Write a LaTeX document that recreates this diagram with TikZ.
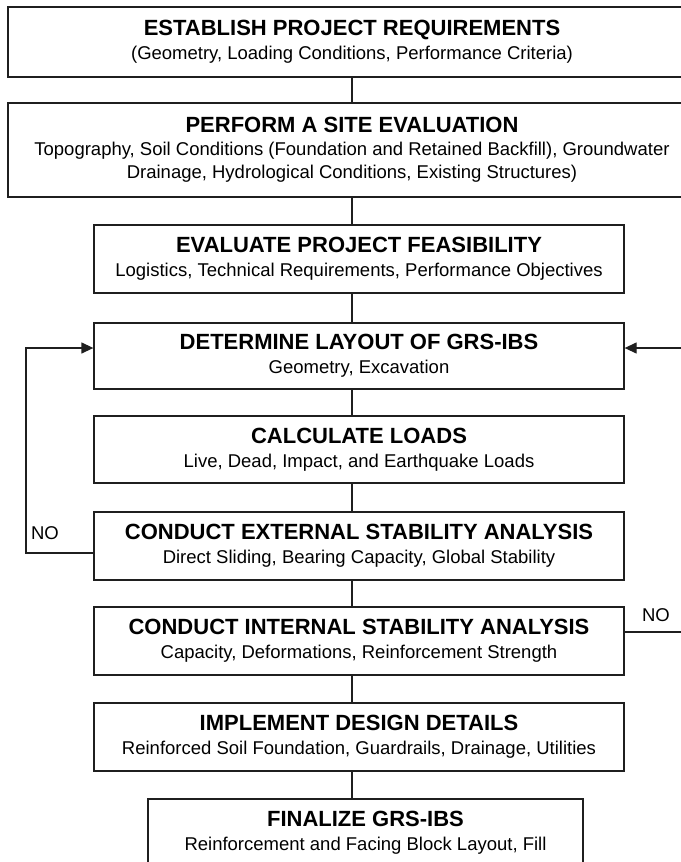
\documentclass[tikz,border=0pt]{standalone}
\usepackage{fontspec}
\setmainfont{Liberation Sans}
\usetikzlibrary{arrows.meta}
\tikzset{
  box/.style={draw=black!88, line width=1.3pt, align=center, inner sep=0pt,
    font=\fontsize{18.5}{24}\selectfont},
  conn/.style={draw=black!88, line width=1.3pt},
  arr/.style={conn, -{Triangle[length=12pt,width=11pt]}},
  nolabel/.style={inner sep=0pt, font=\fontsize{18.5}{22}\selectfont}
}
\newcommand{\ttlf}[1]{{\fontsize{22}{24}\selectfont\bfseries #1}}
\begin{document}
\begin{tikzpicture}[x=1pt,y=-1pt]
\useasboundingbox (0,0) rectangle (680,862);
\coordinate (cx) at (352,0);

\node[box, minimum width=688pt, minimum height=70pt] (b1) at (352,42)
  {\ttlf{ESTABLISH PROJECT REQUIREMENTS}\\(Geometry, Loading Conditions, Performance Criteria)};
\node[box, minimum width=688pt, minimum height=94pt, font=\fontsize{18.5}{23}\selectfont] (b2) at (352,150)
  {\ttlf{PERFORM A SITE EVALUATION}\\Topography, Soil Conditions (Foundation and Retained Backfill), Groundwater\\Drainage, Hydrological Conditions, Existing Structures)};
\node[box, minimum width=530pt, minimum height=68pt] (b3) at (359,259)
  {\ttlf{EVALUATE PROJECT FEASIBILITY}\\Logistics, Technical Requirements, Performance Objectives};
\node[box, minimum width=530pt, minimum height=66pt] (b4) at (359,356)
  {\ttlf{DETERMINE LAYOUT OF GRS-IBS}\\Geometry, Excavation};
\node[box, minimum width=530pt, minimum height=67pt] (b5) at (359,449.5)
  {\ttlf{CALCULATE LOADS}\\Live, Dead, Impact, and Earthquake Loads};
\node[box, minimum width=530pt, minimum height=68pt] (b6) at (359,546)
  {\ttlf{CONDUCT EXTERNAL STABILITY ANALYSIS}\\Direct Sliding, Bearing Capacity, Global Stability};
\node[box, minimum width=530pt, minimum height=68pt] (b7) at (359,641)
  {\ttlf{CONDUCT INTERNAL STABILITY ANALYSIS}\\Capacity, Deformations, Reinforcement Strength};
\node[box, minimum width=530pt, minimum height=68pt] (b8) at (359,737)
  {\ttlf{IMPLEMENT DESIGN DETAILS}\\Reinforced Soil Foundation, Guardrails, Drainage, Utilities};
\node[box, minimum width=435pt, minimum height=68pt] (b9) at (365.5,833)
  {\ttlf{FINALIZE GRS-IBS}\\Reinforcement and Facing Block Layout, Fill};

\draw[conn] (b1.south -| cx) -- (b2.north -| cx);
\draw[conn] (b2.south -| cx) -- (b3.north -| cx);
\draw[conn] (b3.south -| cx) -- (b4.north -| cx);
\draw[conn] (b4.south -| cx) -- (b5.north -| cx);
\draw[conn] (b5.south -| cx) -- (b6.north -| cx);
\draw[conn] (b6.south -| cx) -- (b7.north -| cx);
\draw[conn] (b7.south -| cx) -- (b8.north -| cx);
\draw[conn] (b8.south -| cx) -- (b9.north -| cx);

% left loop
\coordinate (lb) at (26,553);
\coordinate (lt) at (26,348);
\draw[arr] (b6.west |- lb) -- (lb) -- (lt) -- (b4.west |- lt);
\node[nolabel] (no1) at (45,533) {NO};

% right loop
\coordinate (rb) at (692,632);
\coordinate (rt) at (692,348);
\draw[arr] (b7.east |- rb) -- (rb) -- (rt) -- (b4.east |- rt);
\node[nolabel] (no2) at (656,615) {NO};
\end{tikzpicture}
\end{document}
